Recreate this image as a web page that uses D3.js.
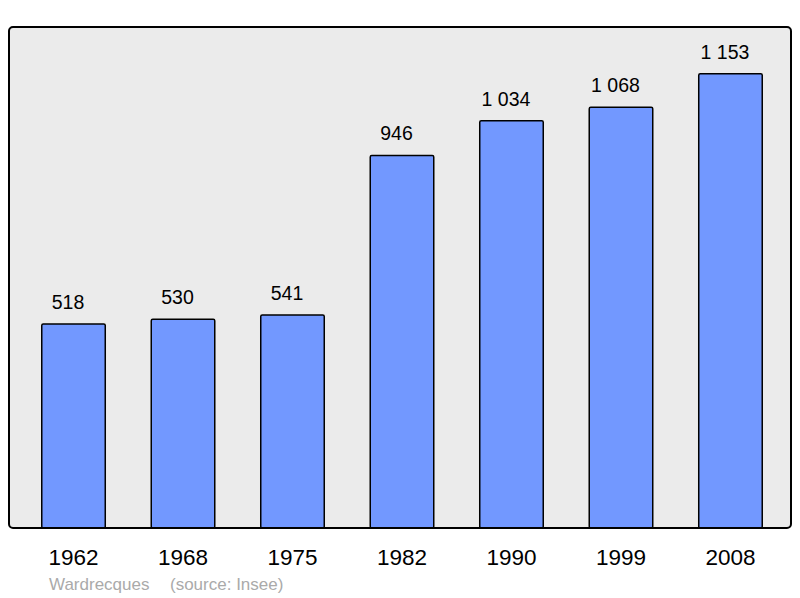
<!DOCTYPE html>
<html>
<head>
<meta charset="UTF-8">
<script src="https://d3js.org/d3.v7.min.js"></script>
<style>
  body { margin: 0; background: #fff; }
  text { font-family: "Liberation Sans", Arial, sans-serif; }
</style>
</head>
<body>
<script>
  // population figures
  const years = ["1962", "1968", "1975", "1982", "1990", "1999", "2008"];
  const population = [518, 530, 541, 946, 1034, 1068, 1153];
  const valueLabels = ["518", "530", "541", "946", "1 034", "1 068", "1 153"];
  const commune = "Wardrecques";
  const source = "(source: Insee)";

  const w = 800, h = 598;
  const frame = { left: 9, top: 27, right: 791, bottom: 528 };

  const svg = d3.select("body").append("svg")
    .attr("width", w)
    .attr("height", h);

  // plot background
  svg.append("rect")
    .attr("x", frame.left)
    .attr("y", frame.top)
    .attr("width", frame.right - frame.left)
    .attr("height", frame.bottom - frame.top)
    .attr("rx", 4)
    .attr("fill", "#ebebeb")
    .attr("stroke", "none");

  const xScale = d3.scaleBand()
    .domain(years)
    .range([10, 794])
    .paddingInner(0.42)
    .paddingOuter(0.29);

  const yScale = d3.scaleLinear()
    .domain([0, 1272])
    .range([frame.bottom, frame.top]);

  svg.selectAll("rect.bar")
    .data(population)
    .enter()
    .append("rect")
    .attr("class", "bar")
    .attr("x", (d, i) => xScale(years[i]))
    .attr("y", d => yScale(d))
    .attr("width", xScale.bandwidth())
    .attr("height", d => yScale(0) - yScale(d))
    .attr("rx", 1.5)
    .attr("fill", "#7298ff")
    .attr("stroke", "#000")
    .attr("stroke-width", 1.5);

  // value labels above bars (sit a little left of the bar centre)
  svg.selectAll("text.value")
    .data(population)
    .enter()
    .append("text")
    .attr("class", "value")
    .attr("x", (d, i) => xScale(years[i]) + xScale.bandwidth() / 2 - 5.5)
    .attr("y", d => yScale(d) - 15)
    .attr("text-anchor", "middle")
    .attr("font-size", "19.5px")
    .attr("fill", "#000")
    .text((d, i) => valueLabels[i]);

  // frame outline on top
  svg.append("rect")
    .attr("x", frame.left)
    .attr("y", frame.top)
    .attr("width", frame.right - frame.left)
    .attr("height", frame.bottom - frame.top)
    .attr("rx", 4)
    .attr("fill", "none")
    .attr("stroke", "#000")
    .attr("stroke-width", 2);

  // year labels via bottom axis
  const xAxis = d3.axisBottom(xScale).tickSize(0).tickPadding(0);
  const gx = svg.append("g")
    .attr("transform", "translate(0," + frame.bottom + ")")
    .call(xAxis);
  gx.select(".domain").remove();
  gx.selectAll("text")
    .attr("dy", null)
    .attr("y", 37)
    .attr("font-family", "Liberation Sans, Arial, sans-serif")
    .attr("font-size", "22.5px")
    .attr("fill", "#000");

  // caption
  svg.append("text")
    .attr("x", 49)
    .attr("y", 590)
    .attr("font-size", "17px")
    .attr("fill", "#aaaaaa")
    .text(commune);

  svg.append("text")
    .attr("x", 170)
    .attr("y", 590)
    .attr("font-size", "17px")
    .attr("fill", "#aaaaaa")
    .text(source);
</script>
</body>
</html>
